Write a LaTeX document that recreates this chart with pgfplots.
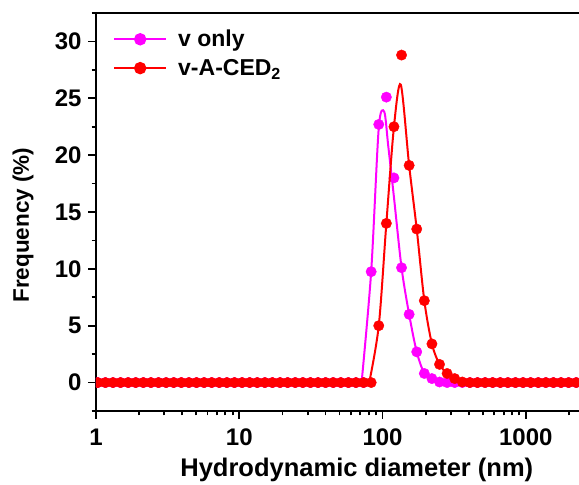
\documentclass[border=0pt]{standalone}
\usepackage{fontspec}
\setmainfont{Liberation Sans}
\usepackage{pgfplots}
\pgfplotsset{compat=1.18}
\definecolor{vmag}{RGB}{255,0,255}
\definecolor{vred}{RGB}{255,0,0}
\begin{document}
\begin{tikzpicture}
\begin{axis}[
  scale only axis, width=483pt, height=398pt,
  xmode=log, xmin=1, xmax=2350, ymin=-2.5, ymax=32.5,
  axis x line*=bottom, axis y line*=left,
  axis line style={line width=2.2pt},
  every tick/.style={black, line width=1.8pt},
  tick align=outside,
  major tick length=8pt, minor tick length=4.5pt,
  xtick={1,10,100,1000}, xticklabels={1,10,100,1000},
  minor xtick={2,3,4,5,6,7,8,9,20,30,40,50,60,70,80,90,200,300,400,500,600,700,800,900,2000},
  ytick={0,5,10,15,20,25,30}, minor ytick={-2.5,2.5,7.5,12.5,17.5,22.5,27.5,32.5},
  /pgf/number format/assume math mode=true,
  ticklabel style={font=\fontsize{24}{28}\selectfont\bfseries},
  xticklabel style={yshift=-6pt},
  yticklabel style={xshift=-3pt},
  xlabel={Hydrodynamic diameter (nm)},
  ylabel={Frequency (\%)},
  xlabel style={font=\fontsize{25.5}{30}\selectfont\bfseries, at={(axis description cs:0.540,-0.165)}, anchor=base},
  ylabel style={font=\fontsize{22.5}{27}\selectfont\bfseries, at={(axis description cs:-0.151,0.467)}, anchor=center},
  clip marker paths=true,
  legend style={draw=none, fill=none, at={(axis description cs:0,1)}, anchor=north west,
    xshift=14pt, yshift=-13pt, row sep=7pt, font=\fontsize{23}{27}\selectfont\bfseries,
    /tikz/every odd column/.append style={column sep=9pt}},
  legend cell align=left,
  legend image code/.code={\draw[mark repeat=2,mark phase=2,#1] plot coordinates {(0pt,0pt) (26pt,0pt) (52pt,0pt)};},
]
\addlegendimage{vmag, line width=2pt, mark=*, mark size=5.2pt}
\addlegendentry{v only}
\addlegendimage{vred, line width=2pt, mark=*, mark size=5.2pt}
\addlegendentry{v-A-CED\textsubscript{2}}

% v only: fitted line
\addplot[vmag, line width=2pt, forget plot] coordinates {(1,0) (71.4,0)};
\addplot[vmag, line width=2pt, smooth, forget plot] coordinates {
(71.4,0) (83.28,9.75) (94.09,22.4) (102.8,23.8) (109.6,20.8) (120.1,16.3)
(135.7,10.1) (153.3,6.0) (173.2,2.7) (195.7,0.8) (221.1,0.35) (249.8,0.05) (282.2,0)};
\addplot[vmag, line width=2pt, forget plot] coordinates {(282.2,0) (2350,0)};
% v only: markers
\addplot[only marks, mark=*, mark size=5.2pt, vmag, forget plot] coordinates {
(1.029,0) (1.163,0) (1.314,0) (1.484,0) (1.677,0) (1.894,0) (2.140,0) (2.418,0) (2.732,0) (3.087,0)
(3.487,0) (3.940,0) (4.451,0) (5.029,0) (5.682,0) (6.420,0) (7.253,0) (8.194,0) (9.258,0) (10.46,0)
(11.82,0) (13.35,0) (15.09,0) (17.04,0) (19.26,0) (21.76,0) (24.58,0) (27.77,0) (31.37,0) (35.45,0)
(40.04,0) (45.24,0) (51.11,0) (57.75,0) (65.24,0) (73.71,0) (83.28,9.75) (94.09,22.7) (106.3,25.1) (120.1,18.0)
(135.7,10.1) (153.3,6.0) (173.2,2.7) (195.7,0.8) (221.1,0.35) (249.8,0.05) (282.2,0) (318.9,0) (360.3,0) (407.0,0)
(459.8,0) (519.5,0) (586.9,0) (663.1,0) (749.2,0) (846.4,0) (956.3,0) (1080,0) (1221,0) (1379,0)
(1558,0) (1760,0) (1989,0) (2247,0)};

% v-A-CED2: fitted line
\addplot[vred, line width=2pt, forget plot] coordinates {(1,0) (80.7,0)};
\addplot[vred, line width=2pt, smooth, forget plot] coordinates {
(80.7,0) (94.09,5.0) (106.3,14.0) (120.1,22.5) (134.0,26.2) (153.3,19.1)
(173.2,13.5) (195.7,7.2) (221.1,3.4) (249.8,1.6) (282.2,0.8) (318.9,0.35) (360.3,0.05) (407.0,0)};
\addplot[vred, line width=2pt, forget plot] coordinates {(407.0,0) (2350,0)};
% v-A-CED2: markers
\addplot[only marks, mark=*, mark size=5.2pt, vred, forget plot] coordinates {
(1.029,0) (1.163,0) (1.314,0) (1.484,0) (1.677,0) (1.894,0) (2.140,0) (2.418,0) (2.732,0) (3.087,0)
(3.487,0) (3.940,0) (4.451,0) (5.029,0) (5.682,0) (6.420,0) (7.253,0) (8.194,0) (9.258,0) (10.46,0)
(11.82,0) (13.35,0) (15.09,0) (17.04,0) (19.26,0) (21.76,0) (24.58,0) (27.77,0) (31.37,0) (35.45,0)
(40.04,0) (45.24,0) (51.11,0) (57.75,0) (65.24,0) (73.71,0) (83.28,0) (94.09,5.0) (106.3,14.0) (120.1,22.5)
(135.7,28.8) (153.3,19.1) (173.2,13.5) (195.7,7.2) (221.1,3.4) (249.8,1.6) (282.2,0.8) (318.9,0.35) (360.3,0.05) (407.0,0)
(459.8,0) (519.5,0) (586.9,0) (663.1,0) (749.2,0) (846.4,0) (956.3,0) (1080,0) (1221,0) (1379,0)
(1558,0) (1760,0) (1989,0) (2247,0)};

\draw[line width=2.2pt] (rel axis cs:0,1) -- (rel axis cs:1,1);
\coordinate (axsw) at (rel axis cs:0,0);
\coordinate (axne) at (rel axis cs:1,1);
\end{axis}
\pgfresetboundingbox
\path ([xshift=-96pt,yshift=-74pt]axsw) rectangle ([yshift=13pt]axne);
\end{tikzpicture}
\end{document}
